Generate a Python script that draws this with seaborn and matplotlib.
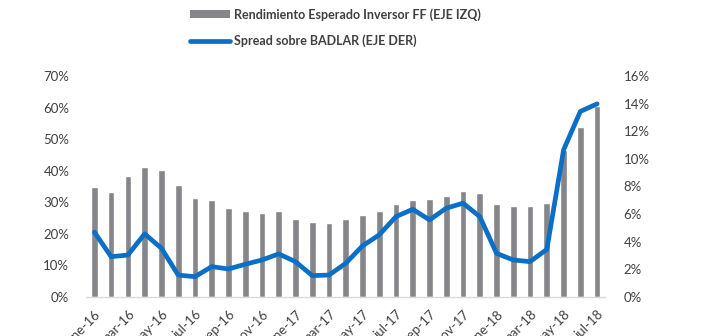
import numpy as np
import pandas as pd
import matplotlib
matplotlib.use("Agg")
import matplotlib.pyplot as plt
import seaborn as sns
from matplotlib.patches import Patch
from matplotlib.lines import Line2D
from matplotlib.ticker import FuncFormatter, MultipleLocator

months = ["ene", "feb", "mar", "abr", "may", "jun", "jul", "ago", "sep", "oct", "nov", "dic"]
categories = [f"{months[m]}-{y}" for y in (16, 17, 18) for m in range(12)][:31]

rendimiento = [34.9, 33.4, 38.3, 41.3, 40.2, 35.5, 31.4, 30.6, 28.3, 27.2, 26.5, 27.2,
               24.8, 23.8, 23.5, 24.6, 26.1, 27.2, 29.3, 30.7, 31.1, 32.0, 33.7, 33.0,
               29.3, 28.8, 28.8, 29.7, 46.5, 53.9, 60.6]
spread = [4.7, 2.92, 3.04, 4.57, 3.53, 1.59, 1.47, 2.2, 2.03, 2.37, 2.68, 3.12,
          2.56, 1.55, 1.59, 2.44, 3.7, 4.5, 5.82, 6.35, 5.58, 6.43, 6.79, 5.82,
          3.16, 2.68, 2.56, 3.45, 10.65, 13.43, 13.98]

label_bar = "Rendimiento Esperado Inversor FF (EJE IZQ)"
label_line = "Spread sobre BADLAR (EJE DER)"

bar_color = "#86868a"
line_color = "#0a6fc6"
text_color = "#404040"

sns.set_theme(style="white")
plt.rcParams["font.family"] = ["Lato", "DejaVu Sans"]

df = pd.DataFrame({"cat": categories, "rend": rendimiento, "spread": spread,
                   "pos": np.arange(len(categories))})

fig = plt.figure(figsize=(7.02, 3.36), dpi=100)
ax = fig.add_axes([0.1225, 0.116, 0.74, 0.658])

sns.barplot(data=df, x="cat", y="rend", order=categories, color=bar_color,
            width=0.4, saturation=1, ax=ax)
ax.set_xlim(-0.5, len(categories) - 0.5)
ax.set_ylim(0, 70)
ax.yaxis.set_major_locator(MultipleLocator(10))
ax.yaxis.set_major_formatter(FuncFormatter(lambda v, p: f"{v:.0f}%"))

ax2 = ax.twinx()
sns.lineplot(data=df, x="pos", y="spread", color=line_color, linewidth=3.4, ax=ax2,
             solid_capstyle="round", solid_joinstyle="round")
ax2.set_ylim(0, 16)
ax2.set_xlim(-0.5, len(categories) - 0.5)
ax2.yaxis.set_major_locator(MultipleLocator(2))
ax2.yaxis.set_major_formatter(FuncFormatter(lambda v, p: f"{v:.0f}%"))

for a in (ax, ax2):
    a.set_xlabel("")
    a.set_ylabel("")
    for s in a.spines.values():
        s.set_visible(False)
    a.tick_params(axis="both", length=0, labelsize=9.5, colors=text_color)
ax.spines["bottom"].set_visible(True)
ax.spines["bottom"].set_color("#d9d9d9")
ax.spines["bottom"].set_linewidth(1)

ax.tick_params(axis="y", pad=12)
ax2.tick_params(axis="y", pad=13)

ticks = list(range(0, len(categories), 2))
ax.set_xticks(ticks)
ax.set_xticklabels([categories[i] for i in ticks], rotation=45, ha="right",
                   rotation_mode="anchor", fontsize=9.5, color=text_color)
ax.tick_params(axis="x", pad=8)

handles = [Patch(facecolor=bar_color, edgecolor="none"),
           Line2D([0], [0], color=line_color, linewidth=3.4, solid_capstyle="round")]
leg = fig.legend(handles, [label_bar, label_line], loc="upper left",
                 bbox_to_anchor=(0.255, 1.01), frameon=False, ncol=1,
                 handlelength=3.2, handleheight=0.5, handletextpad=0.3,
                 labelspacing=1.1, prop={"size": 9, "weight": "bold"})
for t in leg.get_texts():
    t.set_color(text_color)

fig.savefig("out.png", dpi=100)
